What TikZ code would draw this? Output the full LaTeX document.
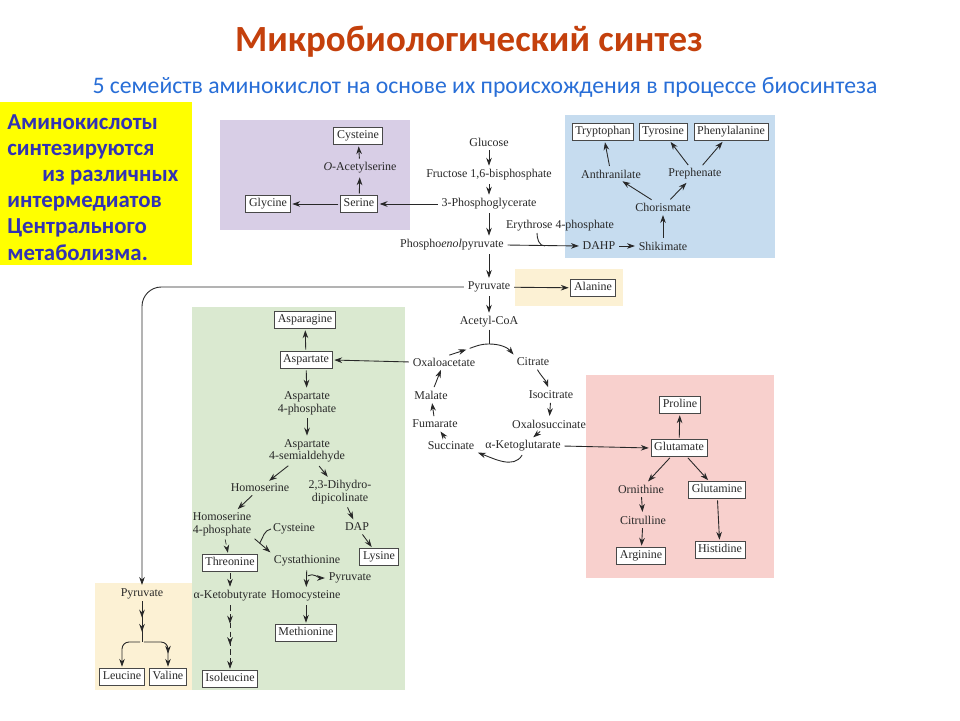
\documentclass[tikz,border=0pt]{standalone}
\usepackage{fontspec}
\setmainfont{Liberation Serif}
\newfontfamily\calibri{Carlito}
\usetikzlibrary{arrows.meta,decorations.markings}
\definecolor{titlered}{RGB}{196,64,12}
\definecolor{subblue}{RGB}{40,110,215}
\definecolor{noteblue}{RGB}{50,50,180}
\definecolor{notebg}{RGB}{255,255,0}
\definecolor{serbg}{RGB}{216,206,230}
\definecolor{arobg}{RGB}{198,220,239}
\definecolor{pyrbg}{RGB}{252,241,212}
\definecolor{aspbg}{RGB}{218,233,208}
\definecolor{glubg}{RGB}{248,208,205}
\definecolor{ink}{RGB}{40,40,40}

\begin{document}
\begin{tikzpicture}[x=0.02cm,y=0.02cm,
   lbl/.style={font=\fontsize{6.8}{7.2}\selectfont,text=ink,inner sep=1pt,align=center},
   aa/.style={lbl,draw=ink!85,fill=white,line width=0.5pt,inner xsep=1.8pt,inner ysep=1.5pt,text height=4.8pt,text depth=1.4pt},
   arr/.style={-{Stealth[length=4.5pt,width=3.2pt]},line width=0.5pt,draw=ink,shorten <=1pt,shorten >=1pt},
   ln/.style={line width=0.5pt,draw=ink},
   dstep/.style={arr,densely dashed,line width=0.35pt},
   tipa/.style={postaction={decorate},decoration={markings,
      mark=at position #1 with {\arrow{Stealth[length=4.5pt,width=3.2pt]}}}},
   tipb/.style 2 args={postaction={decorate},decoration={markings,
      mark=at position #1 with {\arrow{Stealth[length=4.5pt,width=3.2pt]}},
      mark=at position #2 with {\arrow{Stealth[length=4.5pt,width=3.2pt]}}}}]
   \useasboundingbox (0,0) rectangle (960,-720);
   \fill[white] (0,0) rectangle (960,-720);

   \fill[notebg] (0,-102) rectangle (192,-265);
   \fill[serbg] (220,-120) rectangle (410,-230);
   \fill[arobg] (565,-115) rectangle (775,-258);
   \fill[pyrbg] (515,-269) rectangle (623,-306);
   \fill[aspbg] (192,-307) rectangle (405,-690);
   \fill[glubg] (586,-375) rectangle (774,-578);
   \fill[pyrbg] (95,-583) rectangle (192,-690);

   \node[font=\calibri\bfseries\fontsize{21}{25}\selectfont,text=titlered](title) at (469,-42) {Микробиологический синтез};
   \node[font=\calibri\fontsize{13.5}{16}\selectfont,text=subblue](subtitle) at (485,-87) {5 семейств аминокислот на основе их происхождения в процессе биосинтеза};
   \node[font=\calibri\bfseries\fontsize{13}{14.9}\selectfont,text=noteblue,align=left,anchor=north west,inner sep=0pt](note) at (7,-114)
      {Аминокислоты\\синтезируются\\\hspace{20pt}из различных\\интермедиатов\\Центрального\\метаболизма.};

   \node[aa](cys) at (358,-136) {Cysteine};
   \node[lbl](oas) at (360,-168) {\textit{O}-Acetylserine};
   \node[aa](ser) at (359,-204) {Serine};
   \node[aa](gly) at (268,-204) {Glycine};

   \node[lbl](glc) at (489,-142) {Glucose};
   \node[lbl](fbp) at (489,-175) {Fructose 1,6-bisphosphate};
   \node[lbl](pg3) at (489,-204) {3-Phosphoglycerate};
   \node[lbl](pep) at (452,-245) {Phospho\textit{enol}pyruvate};
   \node[lbl](e4p) at (560,-226) {Erythrose 4-phosphate};
   \node[lbl](dahp) at (599,-246) {DAHP};
   \node[lbl](shk) at (663,-246) {Shikimate};
   \node[lbl](cho) at (663,-207) {Chorismate};
   \node[lbl](ant) at (611,-174) {Anthranilate};
   \node[lbl](pph) at (695,-174) {Prephenate};
   \node[aa](trp) at (603,-132) {Tryptophan};
   \node[aa](tyr) at (663,-132) {Tyrosine};
   \node[aa](phe) at (731,-132) {Phenylalanine};

   \node[lbl](pyr) at (489,-287) {Pyruvate};
   \node[aa](ala) at (593,-288) {Alanine};
   \node[lbl](acoa) at (489,-322) {Acetyl-CoA};

   \node[lbl](oaa) at (444,-362) {Oxaloacetate};
   \node[lbl](cit) at (533,-362) {Citrate};
   \node[lbl](icit) at (551,-395) {Isocitrate};
   \node[lbl](osuc) at (549,-424) {Oxalosuccinate};
   \node[lbl](akg) at (523,-446) {α-Ketoglutarate};
   \node[lbl](suc) at (451,-446) {Succinate};
   \node[lbl](fum) at (435,-424) {Fumarate};
   \node[lbl](mal) at (431,-395) {Malate};
   \coordinate (cyca) at (468,-349);
   \coordinate (cyctop) at (489,-344);

   \node[aa](asn) at (305,-320) {Asparagine};
   \node[aa](asp) at (306,-360) {Aspartate};
   \node[lbl](a4p) at (307,-403) {Aspartate\\4-phosphate};
   \node[lbl](asa) at (307,-451) {Aspartate\\4-semialdehyde};
   \node[lbl](hser) at (260,-488) {Homoserine};
   \node[lbl](dhdp) at (340,-492) {2,3-Dihydro-\\dipicolinate};
   \node[lbl](hs4p) at (222,-524) {Homoserine\\4-phosphate};
   \node[lbl](cys2) at (294,-529) {Cysteine};
   \node[lbl](dap) at (357,-527) {DAP};
   \node[aa](lys) at (379,-557) {Lysine};
   \node[aa](thr) at (230,-563) {Threonine};
   \node[lbl](cysth) at (307,-561) {Cystathionine};
   \node[lbl](pyr3) at (350,-578) {Pyruvate};
   \node[lbl](akb) at (230,-596) {α-Ketobutyrate};
   \node[lbl](hcys) at (306,-596) {Homocysteine};
   \node[aa](met) at (306,-633) {Methionine};
   \node[aa](ile) at (230,-679) {Isoleucine};

   \node[aa](pro) at (680,-405) {Proline};
   \node[aa](glu) at (679,-448) {Glutamate};
   \node[lbl](orn) at (641,-489) {Ornithine};
   \node[aa](gln) at (717,-490) {Glutamine};
   \node[lbl](citr) at (643,-520) {Citrulline};
   \node[aa](arg) at (641,-556) {Arginine};
   \node[aa](his) at (720,-550) {Histidine};

   \node[lbl](pyr2) at (142,-594) {Pyruvate};
   \node[aa](leu) at (122,-677) {Leucine};
   \node[aa](val) at (168,-677) {Valine};
   \coordinate (lvfork) at (142,-642);

   \draw[arr](pg3.west) to (ser.east);
   \draw[arr](ser) to (gly);
   \draw[arr](ser) to (oas);
   \draw[arr](oas) to (cys);

   \draw[arr](glc) to (fbp);
   \draw[arr](fbp) to (pg3);
   \draw[arr](pg3.south) to (pg3.south |- pep.north);
   \draw[arr](pg3.south |- pep.south) to (pyr.north);
   \draw[arr](pep.east) to (dahp.west);
   \coordinate (e4pa) at (537,-233);
   \coordinate (e4pj) at (545,-246);
   \draw[ln](e4pa) to[out=-90,in=180] (e4pj);
   \draw[arr](dahp) to (shk);
   \draw[arr](shk) to (cho);
   \draw[arr](cho) to (ant);
   \draw[arr](cho) to (pph);
   \draw[arr](ant) to (trp);
   \draw[arr](pph) to (tyr);
   \draw[arr](pph) to (phe);

   \draw[arr](pyr) to (ala);
   \draw[arr](pyr) to (acoa);
   \draw[arr,rounded corners=11pt](pyr.west) -| (pyr2.north);

   \draw[ln](acoa) to (cyctop);
   \draw[arr](oaa.60) to (cyca);
   \draw[arr](cyca) to[out=20,in=180] (cyctop) to[out=0,in=130] (cit.north west);
   \draw[arr](cit) to[out=-60,in=110] (icit);
   \draw[arr](icit) to (osuc);
   \draw[arr](osuc) to (akg);
   \draw[arr](akg.south) to[out=-120,in=-20] (suc.south east);
   \draw[arr](suc) to (fum);
   \draw[arr](fum) to (mal);
   \draw[arr](mal) to (oaa);
   \draw[arr](oaa.west) to (asp.east);
   \draw[arr](akg.east) to (glu.west);

   \draw[arr](asp) to (asn);
   \draw[arr](asp) to (a4p);
   \draw[arr](a4p) to (asa);
   \draw[arr](asa) to (hser);
   \draw[arr](asa) to (dhdp);
   \draw[arr](hser) to (hs4p);
   \draw[arr](hs4p.south east) to coordinate[pos=0.35](cysj) (cysth.north west);
   \draw[ln](cys2.west) to[out=190,in=60] (cysj);
   \draw[dstep](hs4p) to (thr);
   \draw[dstep](thr) to (akb);
   \draw[dstep,tipb={0.3}{0.62}](akb) to (ile);
   \draw[arr](cysth) to coordinate[pos=0.4](pyrj) (hcys);
   \draw[arr](pyrj) to[out=30,in=180] (pyr3.west);
   \draw[arr](hcys) to (met);
   \draw[arr](dhdp) to (dap);
   \draw[arr](dap) to (lys);

   \draw[arr](glu) to (pro);
   \draw[arr](glu) to (orn);
   \draw[arr](glu) to (gln);
   \draw[arr](orn) to (citr);
   \draw[arr](citr) to (arg);
   \draw[arr](gln) to (his);

   \draw[ln,tipb={0.4}{0.75}](pyr2) to (lvfork);
   \draw[arr,rounded corners=4pt](lvfork) -| (leu.north);
   \draw[arr,tipa=0.7,rounded corners=4pt](lvfork) -| (val.north);
\end{tikzpicture}
\end{document}
